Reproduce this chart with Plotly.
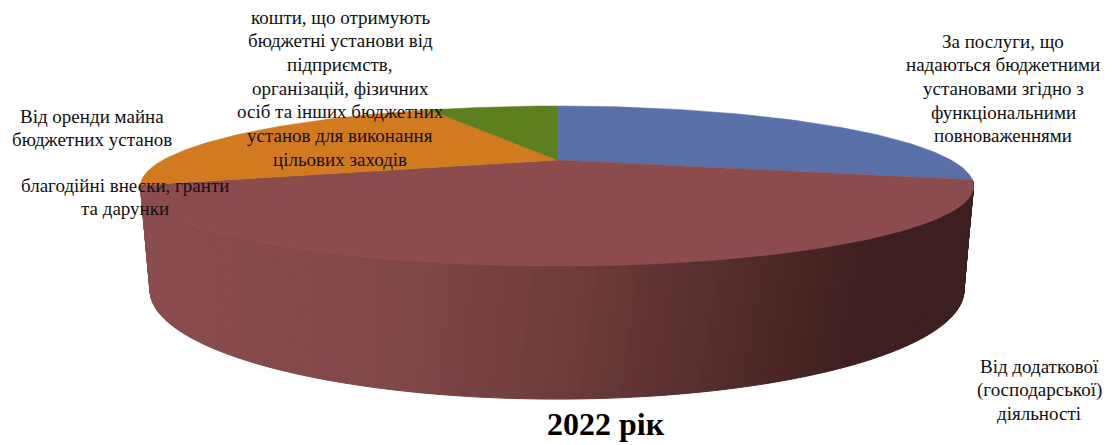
import math
import plotly.graph_objects as go

# ---- data ----
categories = [
    "За послуги, що надаються бюджетними установами згідно з функціональними повноваженнями",
    "Від додаткової (господарської) діяльності",
    "благодійні внески, гранти та дарунки",
    "Від оренди майна бюджетних установ",
    "кошти, що отримують бюджетні установи від підприємств, організацій, фізичних осіб та інших бюджетних установ для виконання цільових заходів",
]
shares = [29.1, 40.8, 0.0, 23.2, 6.9]
slice_colors = ["#5a70a8", "#8c4c4e", "#8c4c4e", "#d27a20", "#5e7f20"]
title_text = "2022 рік"

label_lines = [
    ["За послуги, що", "надаються бюджетними", "установами згідно з", "функціональними", "повноваженнями"],
    ["Від додаткової", "(господарської)", "діяльності"],
    ["благодійні внески, гранти", "та дарунки"],
    ["Від оренди майна", "бюджетних установ"],
    ["кошти, що отримують", "бюджетні установи від", "підприємств,", "організацій, фізичних",
     "осіб та інших бюджетних", "установ для виконання", "цільових заходів"],
]
label_centers = [(1003, 41), (1039, 366), (125, 185), (92, 116), (340, 17)]  # first-line centre

# ---- projection of the pie's unit disc onto the page ----
CX = 557
TOP = dict(a=394.0, b=71.55, k=0.325, y0=160.0)
BOT = dict(a=376.5, b=93.3, k=0.38, y0=248.6)
FONT = "Liberation Serif"
LINE_H = 23.7


def project(theta_deg, p):
    t = math.radians(theta_deg)
    X, Y = math.sin(t), math.cos(t)
    d = 1 + p["k"] * Y
    return CX + p["a"] * X / d, p["y0"] - p["b"] * Y / d


def arc(start, end, p, n):
    pts = [project(start + (end - start) * i / n, p) for i in range(n + 1)]
    return [q[0] for q in pts], [q[1] for q in pts]


def lerp_color(x):
    stops = [(130, (0x8c, 0x4c, 0x4e)), (400, (0x80, 0x47, 0x47)), (560, (0x6e, 0x3c, 0x3c)),
             (720, (0x55, 0x2c, 0x2c)), (860, (0x3e, 0x1f, 0x1f)), (990, (0x3e, 0x1f, 0x1f))]
    for (x0, c0), (x1, c1) in zip(stops, stops[1:]):
        if x <= x1:
            f = (x - x0) / (x1 - x0)
            return "rgb(%d,%d,%d)" % tuple(round(c0[i] + (c1[i] - c0[i]) * f) for i in range(3))
    return "rgb(62,31,31)"


fig = go.Figure()

# angular extents from the shares
angles = []
acc = 0.0
for s in shares:
    angles.append((acc * 3.6, (acc + s) * 3.6))
    acc += s

# side wall of the visible (red) slice
w0, w1 = angles[1]
N = 140
b0, b1 = w0 + 7.5, w1 - 4.0
for i in range(N):
    ta, tb = w0 + (w1 - w0) * i / N, w0 + (w1 - w0) * (i + 1) / N
    ba, bb = b0 + (b1 - b0) * i / N, b0 + (b1 - b0) * (i + 1) / N
    p = [project(ta, TOP), project(tb, TOP), project(bb, BOT), project(ba, BOT)]
    xs = [q[0] for q in p] + [p[0][0]]
    ys = [q[1] for q in p] + [p[0][1]]
    col = lerp_color(sum(xs[:4]) / 4)
    fig.add_trace(go.Scatter(x=xs, y=ys, mode="lines", fill="toself", fillcolor=col,
                             line=dict(color=col, width=1), hoverinfo="skip", showlegend=False))

# top face
for name, s, col, (a0, a1) in zip(categories, shares, slice_colors, angles):
    if s <= 0:
        continue
    ax, ay = arc(a0, a1, TOP, 90)
    fig.add_trace(go.Scatter(x=[CX] + ax + [CX], y=[TOP["y0"]] + ay + [TOP["y0"]], mode="lines",
                             fill="toself", fillcolor=col, line=dict(color=col, width=0.5),
                             name=name, hoverinfo="name", showlegend=False))

# labels
for lines, (lx, ly) in zip(label_lines, label_centers):
    for j, line in enumerate(lines):
        fig.add_annotation(x=lx, y=ly + j * LINE_H, text=line, showarrow=False, xanchor="center",
                           yanchor="middle", font=dict(family=FONT, size=19, color="#111111"))

fig.add_annotation(x=606, y=424, text=f"<b>{title_text}</b>", showarrow=False, xanchor="center",
                   yanchor="middle", font=dict(family=FONT, size=32, color="#000000"))

fig.update_layout(
    width=1113, height=445, margin=dict(l=0, r=0, t=0, b=0),
    paper_bgcolor="white", plot_bgcolor="white", showlegend=False,
    xaxis=dict(range=[0, 1113], visible=False, fixedrange=True),
    yaxis=dict(range=[445, 0], visible=False, fixedrange=True),
)
fig.write_html("out.html", config={"displayModeBar": False},
               post_script="document.body.style.margin='0';document.body.style.overflow='hidden';")
